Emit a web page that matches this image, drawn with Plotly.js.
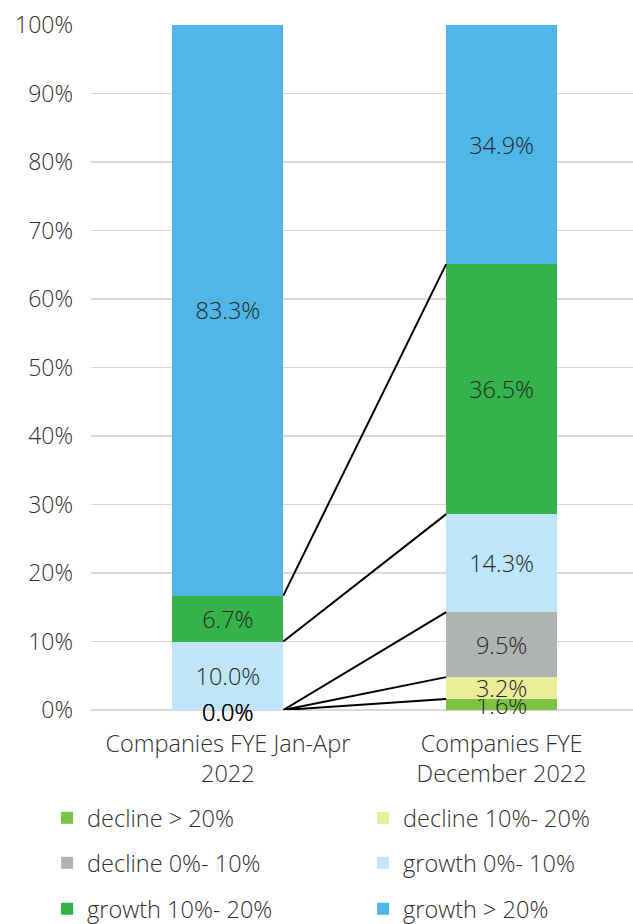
<!DOCTYPE html>
<html>
<head>
<meta charset="utf-8">
<script src="https://cdn.plot.ly/plotly-3.0.1.min.js"></script>
<style>html,body{margin:0;padding:0;background:#fff;overflow:hidden;}#chart{width:633px;height:924px;}</style>
</head>
<body>
<div id="chart"></div>
<script>
const categories = ['Companies FYE Jan-Apr<br>2022', 'Companies FYE<br>December 2022'];
const seriesNames = ['decline > 20%', 'decline 10%- 20%', 'decline 0%- 10%', 'growth 0%- 10%', 'growth 10%- 20%', 'growth > 20%'];
const declineOver20 = [0.0, 1.6];
const decline10to20 = [0.0, 3.2];
const decline0to10 = [0.0, 9.5];
const growth0to10 = [10.0, 14.3];
const growth10to20 = [6.7, 36.5];
const growthOver20 = [83.3, 34.9];
const yTicks = [0, 10, 20, 30, 40, 50, 60, 70, 80, 90, 100];

const series = [declineOver20, decline10to20, decline0to10, growth0to10, growth10to20, growthOver20];
const colors = ['#7DC242', '#EAED9A', '#B0B3B3', '#BEE6F8', '#33B34A', '#4FB7E7'];
const xPos = categories.map((c, i) => i);
const barWidth = 0.405;
const FONT = 'Open Sans, Noto Sans, sans-serif';
const TEXTCOL = '#262626';
const LABELCOL = '#303030';
const FS = 23.5;

const legendIds = seriesNames.map((n, k) => k === 0 ? 'legend' : 'legend' + (k + 1));

const traces = series.map((vals, k) => ({
  type: 'bar',
  name: seriesNames[k],
  x: xPos,
  y: vals,
  width: barWidth,
  marker: {color: colors[k], line: {width: 0}},
  text: vals.map(v => v === 0 ? '' : v.toFixed(1) + '%'),
  textposition: 'inside',
  insidetextanchor: 'middle',
  constraintext: 'none',
  textangle: 0,
  textfont: {family: FONT, size: FS, color: TEXTCOL, weight: 300},
  legend: legendIds[k],
  hoverinfo: 'skip',
  cliponaxis: false
}));

// cumulative boundaries
const cum = xPos.map(() => []);
xPos.forEach((xi, i) => {
  let s = 0;
  series.forEach(vals => { s += vals[i]; cum[i].push(s); });
});
for (let k = 0; k < series.length - 1; k++) {
  traces.push({
    type: 'scatter', mode: 'lines',
    x: [xPos[0] + barWidth / 2, xPos[1] - barWidth / 2],
    y: [cum[0][k], cum[1][k]],
    line: {color: '#000000', width: 2},
    showlegend: false, hoverinfo: 'skip', cliponaxis: false
  });
}

// labels for zero-height segments (not drawn by bars)
const annotations = [];
series.forEach((vals, k) => {
  vals.forEach((v, i) => {
    if (v === 0) {
      annotations.push({
        x: xPos[i], y: cum[i][k], xref: 'x', yref: 'y',
        text: v.toFixed(1) + '%', showarrow: false,
        yanchor: 'middle', yshift: -2,
        font: {family: FONT, size: FS, color: '#111111', weight: 300}
      });
    }
  });
});

const colX = [-0.081, 0.502];
const rowY = [-0.1577, -0.2234, -0.2905];
const layout = {
  width: 633, height: 924,
  margin: {l: 91, r: 0, t: 25, b: 214, autoexpand: false},
  paper_bgcolor: '#ffffff', plot_bgcolor: '#ffffff',
  barmode: 'stack',
  font: {family: FONT, size: FS, color: LABELCOL, weight: 300},
  uniformtext: {mode: 'show', minsize: 20},
  xaxis: {
    range: [-0.5, 1.48], tickvals: xPos, ticktext: categories,
    showgrid: false, zeroline: false, showline: false, ticks: '',
    ticklabelstandoff: 17,
    tickfont: {family: FONT, size: FS, color: LABELCOL, weight: 300},
    fixedrange: true
  },
  yaxis: {
    range: [0, 100], tickvals: yTicks, ticktext: yTicks.map(v => v + '%'),
    showgrid: true, gridcolor: '#D9D9D9', gridwidth: 1.5,
    zeroline: true, zerolinecolor: '#D9D9D9', zerolinewidth: 1.5,
    showline: false, ticks: '', ticklabelstandoff: 17,
    tickfont: {family: FONT, size: 23, color: LABELCOL, weight: 300},
    fixedrange: true
  },
  annotations: annotations,
  showlegend: true
};
legendIds.forEach((id, k) => {
  layout[id] = {
    orientation: 'h', x: colX[k % 2], y: rowY[Math.floor(k / 2)],
    xanchor: 'left', yanchor: 'middle',
    font: {family: FONT, size: FS, color: LABELCOL, weight: 300},
    bgcolor: 'rgba(0,0,0,0)'
  };
});

Plotly.newPlot('chart', traces, layout, {staticPlot: true, displayModeBar: false});
</script>
</body>
</html>
